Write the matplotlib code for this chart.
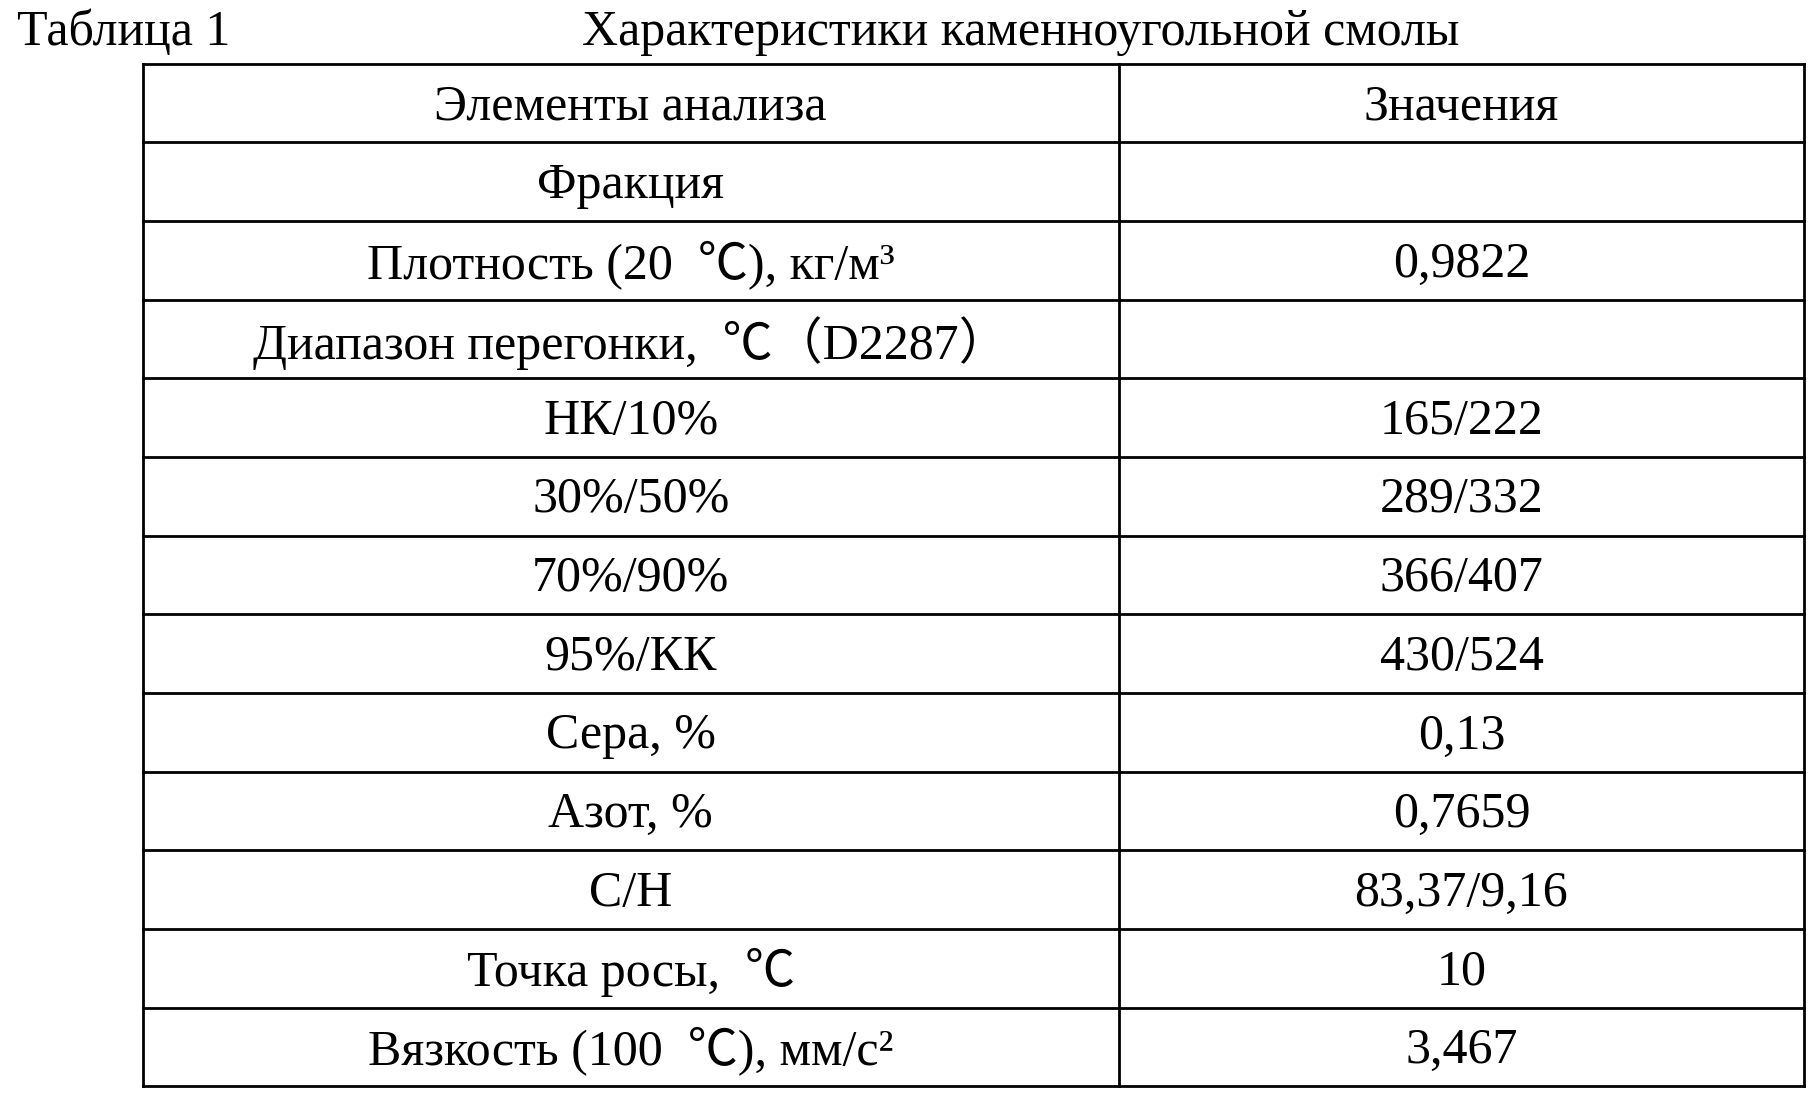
import matplotlib.pyplot as plt

plt.rcParams['font.family'] = ['Liberation Serif', 'Noto Sans CJK SC', 'DejaVu Serif']

table_label = 'Таблица 1'
title = 'Характеристики каменноугольной смолы'
header = ['Элементы анализа', 'Значения']
items = ['Фракция',
         'Плотность (20  ℃), кг/м³',
         'Диапазон перегонки,  ℃（D2287）',
         'НК/10%', '30%/50%', '70%/90%', '95%/КК',
         'Сера, %', 'Азот, %', 'C/H',
         'Точка росы,  ℃',
         'Вязкость (100  ℃), мм/с²']
values = ['', '0,9822', '', '165/222', '289/332', '366/407', '430/524',
          '0,13', '0,7659', '83,37/9,16', '10', '3,467']

W, H = 1568, 950
fig = plt.figure(figsize=(18.18, 10.99), dpi=100)
ax = fig.add_axes([0, 0, 1, 1])
ax.set_xlim(0, W)
ax.set_ylim(H, 0)
ax.axis('off')

fs = 36
ax.text(15, 28, table_label, fontsize=fs, va='center', ha='left')
ax.text(880, 28, title, fontsize=fs, va='center', ha='center')

left, mid, right = 123, 965, 1556
top, row_h = 55, 68
rows = [header] + [[a, b] for a, b in zip(items, values)]
bottom = top + row_h * len(rows)
for i in range(len(rows) + 1):
    y = top + i * row_h
    ax.plot([left, right], [y, y], color='black', lw=2)
for x in (left, mid, right):
    ax.plot([x, x], [top, bottom], color='black', lw=2)
for i, (a, b) in enumerate(rows):
    yc = top + (i + 0.55) * row_h
    ax.text((left + mid) / 2, yc, a, fontsize=fs, ha='center', va='center')
    ax.text((mid + right) / 2, yc, b, fontsize=fs, ha='center', va='center')

fig.savefig('out.png', dpi=100, facecolor='white')
